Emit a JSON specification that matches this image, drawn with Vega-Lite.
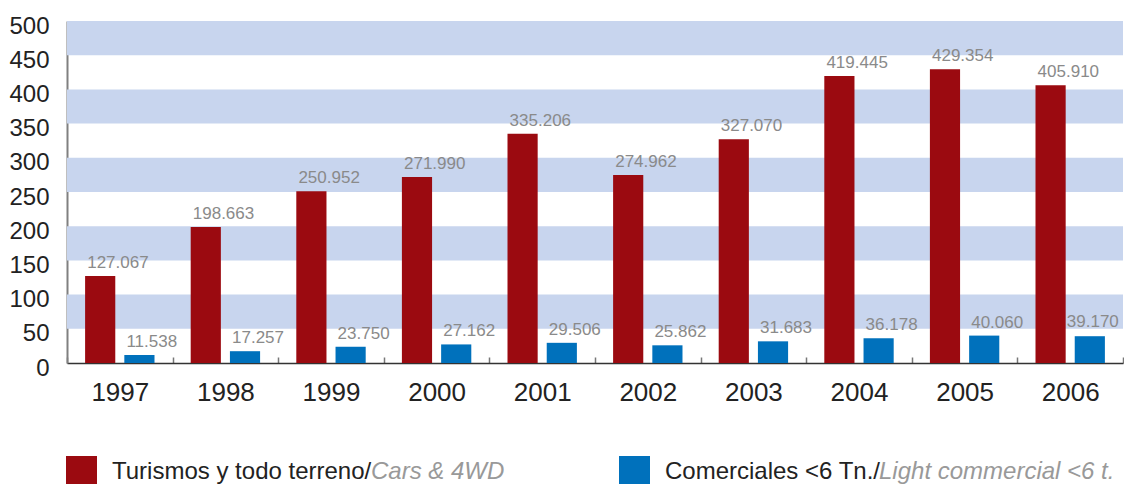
{
  "$schema": "https://vega.github.io/schema/vega-lite/v6.json",
  "width": 1056,
  "height": 342,
  "autosize": {"type": "none"},
  "padding": {"left": 67, "top": 21, "right": 1, "bottom": 121},
  "background": "white",
  "config": {
    "view": {"stroke": null},
    "font": "Liberation Sans",
    "axisX": {
      "title": null, "labelAngle": 0, "labelFontSize": 26, "labelColor": "#222222",
      "tickBand": "extent", "tickSize": -6, "tickColor": "#777777", "tickWidth": 1.5,
      "domainColor": "#333333", "domainWidth": 1.5, "labelPadding": 22
    },
    "axisY": {
      "title": null, "ticks": false, "grid": false, "domainColor": "#808080", "domainWidth": 2,
      "labelFontSize": 24, "labelColor": "#222222", "labelPadding": 18, "labelOffset": 5
    }
  },
  "datasets": {
    "bands": [
      {"lo": 50, "hi": 100}, {"lo": 150, "hi": 200}, {"lo": 250, "hi": 300},
      {"lo": 350, "hi": 400}, {"lo": 450, "hi": 500}
    ],
    "sales": [
      {"year": "1997", "series": "Turismos y todo terreno", "en": "Cars & 4WD", "value": 127.067},
      {"year": "1997", "series": "Comerciales <6 Tn.", "en": "Light commercial <6 t.", "value": 11.538},
      {"year": "1998", "series": "Turismos y todo terreno", "en": "Cars & 4WD", "value": 198.663},
      {"year": "1998", "series": "Comerciales <6 Tn.", "en": "Light commercial <6 t.", "value": 17.257},
      {"year": "1999", "series": "Turismos y todo terreno", "en": "Cars & 4WD", "value": 250.952},
      {"year": "1999", "series": "Comerciales <6 Tn.", "en": "Light commercial <6 t.", "value": 23.750},
      {"year": "2000", "series": "Turismos y todo terreno", "en": "Cars & 4WD", "value": 271.990},
      {"year": "2000", "series": "Comerciales <6 Tn.", "en": "Light commercial <6 t.", "value": 27.162},
      {"year": "2001", "series": "Turismos y todo terreno", "en": "Cars & 4WD", "value": 335.206},
      {"year": "2001", "series": "Comerciales <6 Tn.", "en": "Light commercial <6 t.", "value": 29.506},
      {"year": "2002", "series": "Turismos y todo terreno", "en": "Cars & 4WD", "value": 274.962},
      {"year": "2002", "series": "Comerciales <6 Tn.", "en": "Light commercial <6 t.", "value": 25.862},
      {"year": "2003", "series": "Turismos y todo terreno", "en": "Cars & 4WD", "value": 327.070},
      {"year": "2003", "series": "Comerciales <6 Tn.", "en": "Light commercial <6 t.", "value": 31.683},
      {"year": "2004", "series": "Turismos y todo terreno", "en": "Cars & 4WD", "value": 419.445},
      {"year": "2004", "series": "Comerciales <6 Tn.", "en": "Light commercial <6 t.", "value": 36.178},
      {"year": "2005", "series": "Turismos y todo terreno", "en": "Cars & 4WD", "value": 429.354},
      {"year": "2005", "series": "Comerciales <6 Tn.", "en": "Light commercial <6 t.", "value": 40.060},
      {"year": "2006", "series": "Turismos y todo terreno", "en": "Cars & 4WD", "value": 405.910},
      {"year": "2006", "series": "Comerciales <6 Tn.", "en": "Light commercial <6 t.", "value": 39.170}
    ]
  },
  "layer": [
    {
      "data": {"name": "bands"},
      "mark": {"type": "rect", "color": "#c8d5ee"},
      "encoding": {
        "y": {"field": "lo", "type": "quantitative", "title": null,
              "scale": {"domain": [0, 500], "nice": false},
              "axis": {"values": [0, 50, 100, 150, 200, 250, 300, 350, 400, 450, 500], "labelOverlap": false}},
        "y2": {"field": "hi"}
      }
    },
    {
      "data": {"name": "sales"},
      "mark": {"type": "bar", "strokeWidth": 0},
      "encoding": {
        "x": {"field": "year", "type": "ordinal", "title": null,
              "scale": {"paddingInner": 0, "paddingOuter": 0}},
        "xOffset": {"field": "series", "type": "nominal",
                    "sort": ["Turismos y todo terreno", "Comerciales <6 Tn."],
                    "scale": {"paddingInner": 0.2308, "paddingOuter": 0.4615}},
        "y": {"field": "value", "type": "quantitative", "title": null,
              "axis": {"values": [0, 50, 100, 150, 200, 250, 300, 350, 400, 450, 500], "labelOverlap": false}},
        "color": {
          "field": "series", "type": "nominal",
          "scale": {"domain": ["Turismos y todo terreno", "Comerciales <6 Tn."], "range": ["#9b0a10", "#0071bc"]},
          "legend": {
            "orient": "none", "legendX": -1, "legendY": 435, "direction": "horizontal", "columns": 2,
            "title": null, "padding": 0, "symbolType": "square", "symbolSize": 961, "symbolStrokeWidth": 0,
            "symbolOpacity": 1, "labelOffset": 15, "labelFontSize": 24, "labelColor": "#222222",
            "labelLimit": 0, "columnPadding": 247, "labelExpr": "datum.label + '/'"
          }
        },
        "stroke": {
          "field": "en", "type": "nominal",
          "scale": {"domain": ["Cars & 4WD", "Light commercial <6 t."], "range": ["#9b0a10", "#0071bc"]},
          "legend": {
            "orient": "none", "legendX": 280, "legendY": 438.5, "direction": "horizontal", "columns": 2,
            "title": null, "padding": 0, "symbolSize": 0, "symbolStrokeWidth": 0, "symbolOpacity": 0,
            "labelOffset": 0, "labelFontSize": 24, "labelFontStyle": "italic", "labelColor": "#999999",
            "labelLimit": 0, "columnPadding": 350
          }
        }
      }
    },
    {
      "data": {"name": "sales"},
      "transform": [{"filter": "!(datum.year == '2006' && datum.series == 'Comerciales <6 Tn.')"}],
      "mark": {"type": "text", "align": "left", "baseline": "alphabetic", "dx": -13, "dy": -8,
               "fontSize": 17, "color": "#8a8a8a"},
      "encoding": {
        "x": {"field": "year", "type": "ordinal"},
        "xOffset": {"field": "series", "type": "nominal",
                    "sort": ["Turismos y todo terreno", "Comerciales <6 Tn."]},
        "y": {"field": "value", "type": "quantitative",
              "axis": {"values": [0, 50, 100, 150, 200, 250, 300, 350, 400, 450, 500], "labelOverlap": false}},
        "text": {"field": "value", "type": "quantitative", "format": ".3f"}
      }
    },
    {
      "data": {"name": "sales"},
      "transform": [{"filter": "datum.year == '2006' && datum.series == 'Comerciales <6 Tn.'"}],
      "mark": {"type": "text", "align": "left", "baseline": "alphabetic", "dx": -23, "dy": -9,
               "fontSize": 17, "color": "#8a8a8a"},
      "encoding": {
        "x": {"field": "year", "type": "ordinal"},
        "xOffset": {"field": "series", "type": "nominal",
                    "sort": ["Turismos y todo terreno", "Comerciales <6 Tn."]},
        "y": {"field": "value", "type": "quantitative",
              "axis": {"values": [0, 50, 100, 150, 200, 250, 300, 350, 400, 450, 500], "labelOverlap": false}},
        "text": {"field": "value", "type": "quantitative", "format": ".3f"}
      }
    }
  ]
}
